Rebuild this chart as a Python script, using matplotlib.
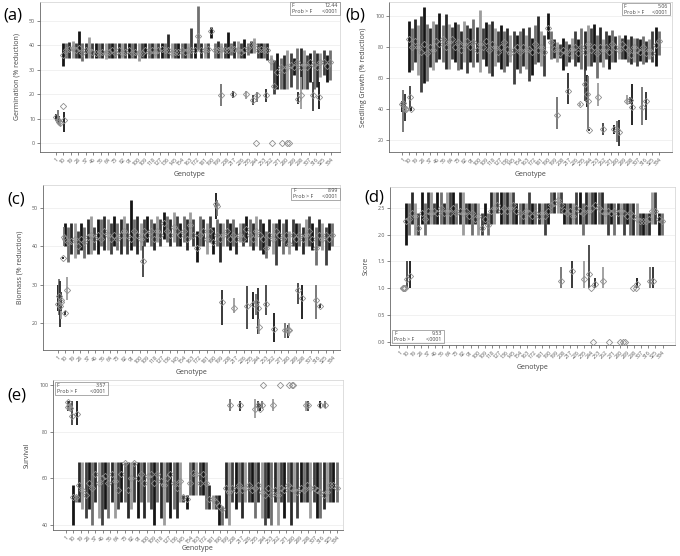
import matplotlib
matplotlib.use('Agg')
import matplotlib.pyplot as plt
from matplotlib.patches import Rectangle

W, H = 680, 556
plt.rcParams['font.family'] = ['Open Sans', 'DejaVu Sans']

# genotypes shown in the dense part of every panel
GENOTYPE = list(range(9, 337, 4))
TICK_GENOTYPES = list(range(1, 335, 9))
TICK_LABELS = [str(g) for g in TICK_GENOTYPES]

LINE_COLORS = ['#151515', '#707070', '#2a2a2a', '#9c9c9c', '#404040']

# (a) Germination
a_mean = [36, 38, 38.5, 39, 38, 39, 37, 38, 38, 37.5, 37, 37, 37.5, 37, 37.5, 38, 37, 38, 37, 37.5,
          38, 37, 37.5, 37, 37, 38, 37.5, 38, 37.5, 38, 38.5, 38, 38, 37, 37.5, 37.5, 38, 37.5, 38, 38,
          38, 44, 38, 38, 38.5, 45.8, 38, 38, 38.5, 38, 38, 39, 38.5, 38, 37.5, 38, 39, 40, 40, 38,
          38.5, 38, 38, 33.5, 23.5, 29, 31, 30, 31, 32, 31, 33, 31, 32, 31, 33, 32, 31, 33, 33,
          31.5, 33]
a_low = [31.5, 35, 35, 35, 35, 35, 33.5, 35, 35, 35, 35, 35, 35, 34.5, 35, 35, 35, 35, 35, 35,
         35, 35, 35, 33.5, 35, 35, 35, 35, 35, 35, 35, 35, 35, 35, 35, 35, 35, 35, 35, 35,
         35, 38, 35, 35, 35, 43, 35, 35, 35, 35, 35, 36, 35, 35, 35, 35, 36, 37, 37, 35,
         35, 35, 34, 30, 20, 22, 22, 22, 22, 23, 28, 22, 22, 22, 22, 25, 22, 23, 27, 28,
         25, 26]
a_high = [41, 41, 41.5, 42, 41, 46, 41, 41, 43.5, 41, 41, 41, 41, 41, 41, 41, 41, 41, 41, 41,
          41, 41, 41, 41, 41, 41, 41, 41, 41, 41, 41, 41, 44.8, 41, 41, 41, 41, 41, 41, 47,
          41, 56, 41, 41, 41, 47.5, 41, 42, 41, 41, 45.5, 41, 42, 42, 41, 42.5, 41, 42, 43, 41,
          41, 41, 41, 36, 34, 37, 35, 36, 38, 37, 35, 39, 39, 38, 36, 37, 38, 37, 37, 38,
          36, 38]
a_out_geno = [1, 3, 5, 6, 10, 11, 201, 215, 231, 240, 243, 244, 255, 262, 275, 281, 283, 294, 298, 312, 319]
a_out_mean = [10.5, 9.5, 8.5, 8, 15, 9.5, 19.5, 20, 20, 17.5, 0, 19.5, 19.5, 0, 0, 0, 0, 18, 19.5, 19.5, 19]
a_out_low = [9, 8, 7.5, 7, 15, 4.5, 15, 18.5, 18, 15.5, 0, 17, 17, 0, 0, 0, 0, 16, 14, 13, 14]
a_out_high = [12, 13.5, 11, 10, 15, 12.5, 24, 21.5, 21.5, 19.5, 0, 21, 22, 0, 0, 0, 0, 21, 27, 25, 25]

# (b) Seedling growth
b_mean = [85, 80, 84, 80, 77, 82, 76, 80, 78, 84, 82, 85, 80, 83, 85, 80, 83, 78, 82, 84,
          80, 83, 78, 82, 80, 84, 78, 82, 80, 77, 80, 83, 79, 76, 78, 80, 77, 80, 78, 79,
          77, 82, 78, 80, 77, 92.5, 83, 79, 78, 76, 78, 77, 76, 79, 80, 76, 80, 77, 82, 78,
          80, 76, 80, 78, 80, 77, 82, 80, 78, 82, 80, 78, 75, 80, 78, 77, 80, 76, 78, 76,
          81, 84]
b_low = [64, 65, 70, 62, 51, 57, 58, 67, 65, 70, 72, 70, 66, 66, 72, 70, 65, 66, 70, 63,
         70, 67, 70, 64, 72, 68, 63, 61, 68, 70, 66, 64, 68, 70, 56, 66, 63, 68, 66, 58,
         62, 69, 70, 68, 61, 85, 72, 73, 70, 73, 65, 68, 70, 72, 68, 70, 66, 65, 68, 68,
         70, 60, 70, 67, 72, 66, 70, 70, 72, 72, 72, 70, 69, 70, 68, 71, 69, 70, 72, 70,
         68, 75]
b_high = [97, 92, 98, 94, 100, 106, 95, 92, 97, 95, 102, 94, 101, 95, 93, 96, 95, 90, 97, 94,
          92, 98, 93, 104, 92, 96, 95, 97, 92, 90, 94, 90, 92, 88, 90, 88, 90, 92, 88, 93,
          86, 94, 100, 90, 88, 102, 90, 85, 83, 82, 86, 84, 82, 86, 90, 85, 92, 90, 94, 92,
          95, 88, 93, 85, 90, 88, 91, 87, 88, 86, 88, 85, 87, 86, 86, 85, 87, 84, 85, 90,
          93, 90]
b_out_geno = [1, 2, 4, 6, 11, 12, 201, 215, 231, 238, 240, 242, 243, 254, 261, 275, 279, 281, 292, 296, 298, 312, 317]
b_out_mean = [43, 44, 40, 40, 48, 40, 36, 51.5, 43, 56, 50, 45, 26.5, 48, 27, 27, 26.5, 25.5, 45.5, 46, 41, 41.5, 45]
b_out_low = [38, 25, 32, 39, 40, 39, 27, 43, 42, 45, 41, 27, 26, 42, 23, 24, 19, 16, 43, 43, 30, 30, 33]
b_out_high = [45, 52, 50, 41, 55, 41, 48, 63, 44, 66, 62, 61, 27, 57, 31, 30, 32, 33, 49, 48, 56, 54, 51]

# (c) Biomass
c_mean = [42, 41, 41.5, 42, 40, 42, 41, 42.5, 43, 42, 43, 42, 44, 43, 42, 43, 42, 43, 44, 43,
          42, 44, 43, 42, 44, 43, 44, 42, 44, 43, 46, 44, 43, 45, 44, 43, 44, 42, 45.5, 43,
          39.5, 43, 44, 42, 44, 41, 43, 42, 43, 44, 42, 43, 42, 43, 42, 44.5, 43, 42, 44, 43,
          42, 39.5, 43, 42, 44, 43, 42, 43, 40.5, 43, 42, 43, 42, 43, 44, 42, 39.5, 43, 42, 43,
          42, 43]
c_low = [40, 36, 38, 37, 38, 39, 37, 38, 38, 39, 38, 40, 39, 39, 38, 40, 39, 38, 40, 38,
         39, 40, 38, 39, 40, 41, 40, 39, 41, 40, 42, 41, 40, 41, 40, 40, 41, 39, 42, 40,
         36, 40, 40, 38, 41, 38, 40, 36, 40, 40, 39, 40, 38, 41, 40, 41, 40, 39, 40, 39,
         38, 37, 40, 38, 35, 40, 38, 40, 38, 40, 39, 40, 38, 40, 40, 39, 35, 40, 39, 35,
         39, 40]
c_high = [46, 45, 46, 46, 44, 46, 45, 47, 48, 45, 47, 47, 48, 47, 46, 48, 46, 47, 48, 46,
          52, 47, 48, 46, 47, 48, 47, 46, 48, 47, 49, 48, 47, 49, 48, 46, 48, 47, 49, 47,
          44, 48, 47, 46, 48, 45, 47, 46, 46, 47, 46, 47, 45, 46, 46, 48, 47, 46, 48, 47,
          46, 44, 47, 46, 46, 47, 46, 47, 44, 47, 46, 46, 45, 47, 48, 46, 45, 47, 46, 45,
          46, 46]
c_out_geno = [1, 2, 3, 4, 5, 7, 8, 10, 12, 104, 192, 193, 200, 214, 230, 237, 241, 243, 244, 253, 262, 276, 279, 281, 292, 296, 313, 318]
c_out_mean = [25, 27, 24.5, 25.5, 26, 37, 42.5, 22.5, 28.5, 36.2, 51, 50.5, 25.5, 24, 24.5, 25, 25.5, 24, 19, 25, 18.5, 18, 18, 18, 28.5, 26.5, 26, 24.5]
c_out_low = [23, 22, 19, 21, 23, 36.8, 40, 22, 26, 32, 47, 48, 19.5, 22.5, 18.5, 21, 22, 17, 17, 22, 15, 16, 16, 16.5, 25, 21, 21, 24]
c_out_high = [30, 31.5, 31, 28, 28, 37.3, 45, 23, 32, 40, 54, 52, 28.5, 26.5, 29.5, 28, 27.5, 29, 21, 30, 22.5, 20, 19.5, 20, 30.5, 30, 30, 25]

# (d) Score
d_mean = [2.25, 2.3, 2.4, 2.35, 2.13, 2.4, 2.3, 2.45, 2.4, 2.45, 2.4, 2.5, 2.4, 2.45, 2.4, 2.5, 2.4, 2.45, 2.4, 2.45,
          2.35, 2.4, 2.3, 2.35, 2.13, 2.3, 2.18, 2.45, 2.5, 2.55, 2.45, 2.5, 2.45, 2.5, 2.55, 2.45, 2.4, 2.35, 2.45, 2.4,
          2.35, 2.4, 2.35, 2.4, 2.35, 2.45, 2.55, 2.6, 2.65, 2.55, 2.45, 2.4, 2.45, 2.35, 2.5, 2.45, 2.4, 2.5, 2.45, 2.5,
          2.55, 2.5, 2.45, 2.4, 2.45, 2.4, 2.45, 2.4, 2.45, 2.4, 2.35, 2.4, 2.35, 2.3, 2.25, 2.25, 2.25, 2.3, 2.45, 2.45,
          2.3, 2.25]
d_low = [1.8, 2.0, 2.2, 2.0, 2.0, 2.2, 2.0, 2.2, 2.2, 2.2, 2.2, 2.2, 2.2, 2.2, 2.2, 2.2, 2.2, 2.2, 2.0, 2.2,
         2.2, 2.0, 2.2, 2.0, 2.0, 2.2, 2.0, 2.2, 2.2, 2.4, 2.2, 2.2, 2.2, 2.2, 2.2, 2.2, 2.2, 2.2, 2.2, 2.2,
         2.2, 2.2, 2.2, 2.2, 2.0, 2.2, 2.4, 2.4, 2.4, 2.4, 2.2, 2.2, 2.2, 2.2, 2.2, 2.2, 2.0, 2.2, 2.2, 2.2,
         2.2, 2.2, 2.2, 2.2, 2.0, 2.2, 2.0, 2.2, 2.2, 2.0, 2.2, 2.0, 2.0, 2.0, 2.0, 2.0, 2.0, 2.0, 2.2, 2.2,
         2.0, 2.0]
d_high = [2.6, 2.6, 2.8, 2.6, 2.4, 2.8, 2.6, 2.8, 2.8, 2.6, 2.8, 2.8, 2.6, 2.8, 2.8, 2.8, 2.6, 2.8, 2.8, 2.6,
          2.6, 2.6, 2.6, 2.6, 2.4, 2.6, 2.4, 2.8, 2.8, 2.8, 2.8, 2.8, 2.8, 2.8, 2.8, 2.6, 2.6, 2.6, 2.6, 2.8,
          2.6, 2.6, 2.6, 2.6, 2.6, 2.6, 2.8, 2.8, 2.8, 2.8, 2.6, 2.6, 2.6, 2.6, 2.8, 2.8, 2.6, 2.8, 2.8, 2.8,
          2.8, 2.8, 2.8, 2.6, 2.6, 2.6, 2.6, 2.6, 2.6, 2.6, 2.6, 2.6, 2.6, 2.6, 2.4, 2.4, 2.4, 2.4, 2.8, 2.8,
          2.4, 2.4]
d_out_geno = [5, 6, 7, 8, 10, 14, 206, 219, 235, 241, 244, 246, 248, 259, 266, 280, 284, 286, 296, 300, 302, 318, 322]
d_out_mean = [1.0, 1.0, 1.0, 1.0, 1.17, 1.23, 1.13, 1.33, 1.17, 1.27, 1.0, 0.0, 1.07, 1.13, 0.0, 0.0, 0.0, 0.0, 1.0, 1.0, 1.07, 1.13, 1.13]
d_out_low = [1.0, 1.0, 1.0, 1.0, 1.0, 1.0, 1.0, 1.0, 1.0, 1.0, 1.0, 0.0, 1.0, 1.0, 0.0, 0.0, 0.0, 0.0, 1.0, 1.0, 1.0, 1.0, 1.0]
d_out_high = [1.0, 1.0, 1.0, 1.0, 1.5, 1.5, 1.4, 1.5, 1.5, 1.8, 1.0, 0.0, 1.2, 1.4, 0.0, 0.0, 0.0, 0.0, 1.0, 1.0, 1.2, 1.4, 1.4]

# (e) Survival
e_mean = [52, 52, 57, 55, 53, 58, 56, 62, 58, 60, 61, 58, 62, 59, 55, 62, 66.5, 55, 60, 66.5,
          60, 62, 58, 61, 62, 58, 62, 59, 57, 60, 62, 58, 56, 59, 52, 51, 58, 62.5, 62, 58,
          62, 58, 51, 51, 50, 48, 47, 56, 54, 56, 55, 57, 55, 56, 57, 55, 56, 57, 54, 53,
          56, 53, 55, 53, 56, 55, 57, 56, 55, 54, 56, 55, 57, 56, 56, 55, 54, 53, 54, 57,
          57, 56]
e_low = [40, 50, 50, 47, 43, 47, 40, 50, 43, 40, 47, 43, 50, 43, 47, 50, 50, 43, 47, 50,
         43, 50, 43, 50, 47, 40, 50, 43, 40, 50, 43, 47, 43, 50, 50, 47, 53, 53, 53, 53,
         53, 47, 47, 47, 47, 40, 40, 43, 40, 50, 47, 50, 43, 50, 50, 50, 43, 50, 43, 40,
         43, 40, 50, 40, 50, 43, 50, 40, 50, 43, 50, 50, 50, 43, 50, 43, 43, 47, 50, 50,
         50, 50]
e_high = [57, 53, 67, 67, 67, 67, 67, 67, 67, 67, 67, 67, 67, 67, 67, 67, 67, 67, 67, 67,
          67, 67, 67, 67, 67, 67, 67, 67, 67, 67, 67, 67, 67, 67, 53, 53, 67, 67, 67, 67,
          67, 67, 57, 53, 53, 53, 48, 67, 67, 67, 67, 67, 67, 67, 67, 67, 67, 67, 67, 67,
          67, 67, 67, 67, 67, 67, 67, 67, 67, 67, 67, 67, 67, 67, 67, 67, 67, 67, 67, 67,
          67, 67]
e_out_geno = [3, 4, 5, 6, 8, 15, 202, 215, 233, 237, 239, 241, 243, 255, 263, 275, 278, 279, 296, 298, 313, 319]
e_out_mean = [90.5, 92.5, 91, 90, 86.5, 87.5, 91.5, 91.5, 89.5, 91.5, 89.5, 91.5, 100, 91.5, 100, 100, 100, 100, 91.5, 91.5, 91.5, 91.5]
e_out_low = [89, 90, 89, 89, 83, 83, 89, 89, 86, 89, 89, 90, 100, 89, 100, 100, 100, 100, 89, 89, 90, 90]
e_out_high = [93, 93, 93, 92, 93, 93, 94, 93, 94, 93, 92, 93, 100, 94, 100, 100, 100, 100, 93, 93, 93, 93]


def px_axes(fig, left, top, right, bottom):
    return fig.add_axes([left / W, 1 - bottom / H, (right - left) / W, (bottom - top) / H])


def draw_panel(ax, mean, low, high, o_geno, o_mean, o_low, o_high, xlim, ylim, yticks, ylabel, fmt,
               xpad=3):
    cols = [LINE_COLORS[i % len(LINE_COLORS)] for i in range(len(GENOTYPE))]
    ax.vlines(GENOTYPE, low, high, colors=cols, linewidth=2.0, zorder=2)
    ax.plot(GENOTYPE, mean, 'D', mfc='none', mec='#8f8f8f', ms=3.2, mew=0.6, zorder=3)
    ocols = [LINE_COLORS[i % len(LINE_COLORS)] for i in range(len(o_geno))]
    ax.vlines(o_geno, o_low, o_high, colors=ocols, linewidth=1.3, zorder=2)
    ax.plot(o_geno, o_mean, 'D', mfc='none', mec='#8f8f8f', ms=3.2, mew=0.6, zorder=3)

    ax.set_xlim(*xlim)
    ax.set_ylim(*ylim)
    ax.set_yticks(yticks)
    ax.set_yticklabels([fmt.format(v) for v in yticks])
    ax.set_xticks(TICK_GENOTYPES)
    ax.set_xticklabels(TICK_LABELS, rotation=45, ha='right', rotation_mode='anchor')
    ax.tick_params(axis='both', labelsize=3.8, colors='#555555', length=2, width=0.5, pad=1.5)
    ax.grid(axis='y', color='#ececec', linewidth=0.5, zorder=0)
    ax.set_axisbelow(True)
    for side in ['top', 'right']:
        ax.spines[side].set_color('#d0d0d0')
        ax.spines[side].set_linewidth(0.5)
    for side in ['left', 'bottom']:
        ax.spines[side].set_color('#666666')
        ax.spines[side].set_linewidth(0.6)
    ax.set_ylabel(ylabel, fontsize=5, color='#444444', labelpad=6)
    ax.set_xlabel('Genotype', fontsize=5, color='#444444', labelpad=xpad)


def stats_box(fig, left, top, right, bottom, fval):
    fig.patches.append(Rectangle((left / W, 1 - bottom / H), (right - left) / W, (bottom - top) / H,
                                 transform=fig.transFigure, fill=False, edgecolor='#888888',
                                 linewidth=0.5))
    mid = (top + bottom) / 2
    fig.text((left + 2) / W, 1 - (mid - 3) / H, 'F', fontsize=3.8, color='#444444', va='center')
    fig.text((right - 2) / W, 1 - (mid - 3) / H, fval, fontsize=3.8, color='#444444', va='center', ha='right')
    fig.text((left + 2) / W, 1 - (mid + 3) / H, 'Prob > F', fontsize=3.8, color='#444444', va='center')
    fig.text((right - 2) / W, 1 - (mid + 3) / H, '<.0001', fontsize=3.8, color='#444444', va='center', ha='right')


fig = plt.figure(figsize=(W / 100, H / 100), dpi=100)

ax_a = px_axes(fig, 40, 2, 340, 152)
draw_panel(ax_a, a_mean, a_low, a_high, a_out_geno, a_out_mean, a_out_low, a_out_high,
           (-18.4, 344.8), (-3.7, 57.8), [0, 10, 20, 30, 40, 50], 'Germination (% reduction)', '{:.0f}')
ax_b = px_axes(fig, 389, 2, 672, 152)
draw_panel(ax_b, b_mean, b_low, b_high, b_out_geno, b_out_mean, b_out_low, b_out_high,
           (-16.4, 350.3), (12.3, 109), [20, 40, 60, 80, 100], 'Seedling Growth (% reduction)', '{:.0f}')
ax_c = px_axes(fig, 43, 185, 340, 350)
draw_panel(ax_c, c_mean, c_low, c_high, c_out_geno, c_out_mean, c_out_low, c_out_high,
           (-17.2, 342.4), (12.9, 56), [20, 30, 40, 50], 'Biomass (% reduction)', '{:.0f}')
ax_d = px_axes(fig, 390, 187, 675, 345)
draw_panel(ax_d, d_mean, d_low, d_high, d_out_geno, d_out_mean, d_out_low, d_out_high,
           (-11, 349.7), (-0.06, 2.89), [0.0, 0.5, 1.0, 1.5, 2.0, 2.5], 'Score', '{:.1f}')
ax_e = px_axes(fig, 53, 380, 343, 530)
draw_panel(ax_e, e_mean, e_low, e_high, e_out_geno, e_out_mean, e_out_low, e_out_high,
           (-15, 340.9), (37.9, 102.1), [40, 60, 80, 100], 'Survival', '{:.0f}', xpad=0.5)

stats_box(fig, 290, 2, 340, 15, '12.44')
stats_box(fig, 622, 3, 670, 15, '5.06')
stats_box(fig, 291, 188, 340, 200, '8.99')
stats_box(fig, 392, 330, 444, 343, '9.53')
stats_box(fig, 55, 382, 108, 395, '3.57')

for label, x, y in [('(a)', 3, 15), ('(b)', 345, 15), ('(c)', 7, 200), ('(d)', 364, 197), ('(e)', 7, 395)]:
    fig.text(x / W, 1 - y / H, label, fontsize=12, color='black', va='center', ha='left')

fig.savefig('out.png', dpi=100)
